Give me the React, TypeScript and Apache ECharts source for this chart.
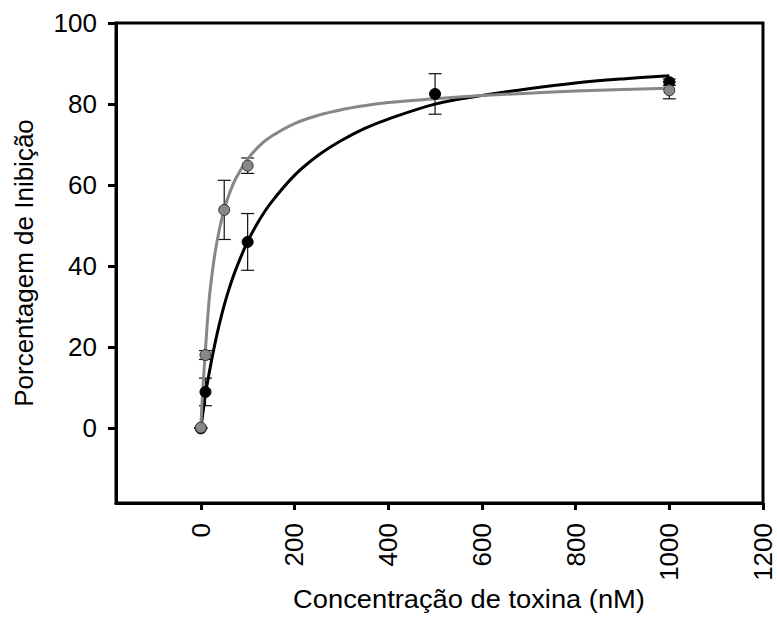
import React, { useEffect, useRef } from "react";
import * as echarts from "echarts";

// Measured points (mean ± error) for the two toxins
const blackX = [0, 10, 100, 500, 1000];
const blackY = [0, 9.0, 46.0, 82.5, 85.4];
const blackErr = [0, 3.4, 7.0, 5.0, 0.8];

const grayX = [0, 10, 50, 100, 1000];
const grayY = [0.2, 18.1, 53.9, 64.8, 83.4];
const grayErr = [0, 1.1, 7.3, 1.9, 2.1];

// Fitted saturation curves
const fitX = [0, 2, 5, 10, 15, 20, 30, 40, 50, 60, 75, 100, 125, 150, 200, 250, 300, 350, 400, 500, 600, 700, 800, 900, 1000];
const blackFit = [0, 1.7, 4.2, 8.6, 11.8, 15.0, 20.8, 25.9, 30.4, 34.3, 39.3, 46.1, 51.4, 55.7, 62.4, 67.3, 71.0, 74.0, 76.3, 80.0, 82.1, 83.8, 85.2, 86.2, 87.0];
const grayFit = [0, 5, 11, 19.5, 27.8, 34.2, 43, 49.3, 54, 57.6, 61.7, 66.4, 69.7, 72, 75.2, 77.2, 78.6, 79.6, 80.4, 81.3, 82.1, 82.7, 83.2, 83.6, 83.9];

// Axis ticks
const xTicks = [0, 200, 400, 600, 800, 1000, 1200];
const yTicks = [0, 20, 40, 60, 80, 100];

const FONT = "'Liberation Sans', Arial, Helvetica, sans-serif";
const GRAY = "#878787";

function errorBars(xs: number[], ys: number[], errs: number[]) {
  return xs.map((x, i) => [x, ys[i] - errs[i], ys[i] + errs[i]]);
}

function renderError(params: any, api: any) {
  const x = api.value(0);
  const lo = api.coord([x, api.value(1)]);
  const hi = api.coord([x, api.value(2)]);
  const cap = 6.5;
  const style = { stroke: "#111", lineWidth: 1.2 };
  return {
    type: "group",
    children: [
      { type: "line", shape: { x1: lo[0], y1: lo[1], x2: hi[0], y2: hi[1] }, style },
      { type: "line", shape: { x1: lo[0] - cap, y1: lo[1], x2: lo[0] + cap, y2: lo[1] }, style },
      { type: "line", shape: { x1: hi[0] - cap, y1: hi[1], x2: hi[0] + cap, y2: hi[1] }, style },
    ],
  };
}

export default function App() {
  const ref = useRef<HTMLDivElement>(null);

  useEffect(() => {
    if (!ref.current) return;
    const chart = echarts.init(ref.current, null, { renderer: "svg" });

    const axisLineStyle = { color: "#000", width: 3 };
    const plain = (v: number) => String(v);

    chart.setOption({
      animation: false,
      backgroundColor: "#fff",
      grid: {
        left: 116,
        top: 23,
        width: 647,
        height: 480,
        show: true,
        borderColor: "#000",
        borderWidth: 3,
        backgroundColor: "transparent",
      },
      xAxis: {
        type: "value",
        min: -181,
        max: 1200,
        axisLine: { show: true, onZero: false, lineStyle: axisLineStyle },
        axisTick: { show: true, length: 7, lineStyle: { color: "#000", width: 3 }, customValues: xTicks },
        axisLabel: {
          customValues: xTicks,
          formatter: plain,
          rotate: 90,
          margin: 20,
          fontSize: 26,
          color: "#000",
          fontFamily: FONT,
        },
        splitLine: { show: false },
      },
      yAxis: {
        type: "value",
        min: -18.4,
        max: 100,
        axisLine: { show: true, onZero: false, lineStyle: axisLineStyle },
        axisTick: { show: true, length: 8, lineStyle: { color: "#000", width: 3 }, customValues: yTicks },
        axisLabel: {
          customValues: yTicks,
          formatter: plain,
          margin: 19,
          fontSize: 26,
          color: "#000",
          fontFamily: FONT,
        },
        splitLine: { show: false },
      },
      graphic: [
        {
          type: "text",
          x: 24,
          y: 263,
          rotation: Math.PI / 2,
          style: {
            text: "Porcentagem de Inibição",
            font: `26px ${FONT}`,
            fill: "#000",
            align: "center",
            verticalAlign: "middle",
          },
        },
        {
          type: "text",
          x: 469,
          y: 599,
          scaleX: 1.05,
          style: {
            text: "Concentração de toxina (nM)",
            font: `26px ${FONT}`,
            fill: "#000",
            align: "center",
            verticalAlign: "middle",
          },
        },
      ],
      series: [
        {
          type: "custom",
          name: "erro preto",
          renderItem: renderError,
          data: errorBars(blackX, blackY, blackErr),
          z: 1,
          silent: true,
        },
        {
          type: "custom",
          name: "erro cinza",
          renderItem: renderError,
          data: errorBars(grayX, grayY, grayErr),
          z: 1,
          silent: true,
        },
        {
          type: "line",
          name: "ajuste preto",
          data: fitX.map((x, i) => [x, blackFit[i]]),
          smooth: 0.35,
          showSymbol: false,
          lineStyle: { color: "#000", width: 3 },
          z: 2,
        },
        {
          type: "line",
          name: "ajuste cinza",
          data: fitX.map((x, i) => [x, grayFit[i]]),
          smooth: 0.35,
          showSymbol: false,
          lineStyle: { color: GRAY, width: 3 },
          z: 2,
        },
        {
          type: "scatter",
          name: "preto",
          data: blackX.map((x, i) => [x, blackY[i]]),
          symbol: "circle",
          symbolSize: 11,
          itemStyle: { color: "#000", borderColor: "#000", borderWidth: 1, opacity: 1 },
          z: 3,
        },
        {
          type: "scatter",
          name: "cinza",
          data: grayX.map((x, i) => [x, grayY[i]]),
          symbol: "circle",
          symbolSize: 11,
          itemStyle: { color: GRAY, borderColor: "#333", borderWidth: 1, opacity: 1 },
          z: 4,
        },
      ],
    });

    return () => chart.dispose();
  }, []);

  return (
    <div
      ref={ref}
      style={{ position: "absolute", left: 0, top: 0, width: 777, height: 621, background: "#fff" }}
    />
  );
}
